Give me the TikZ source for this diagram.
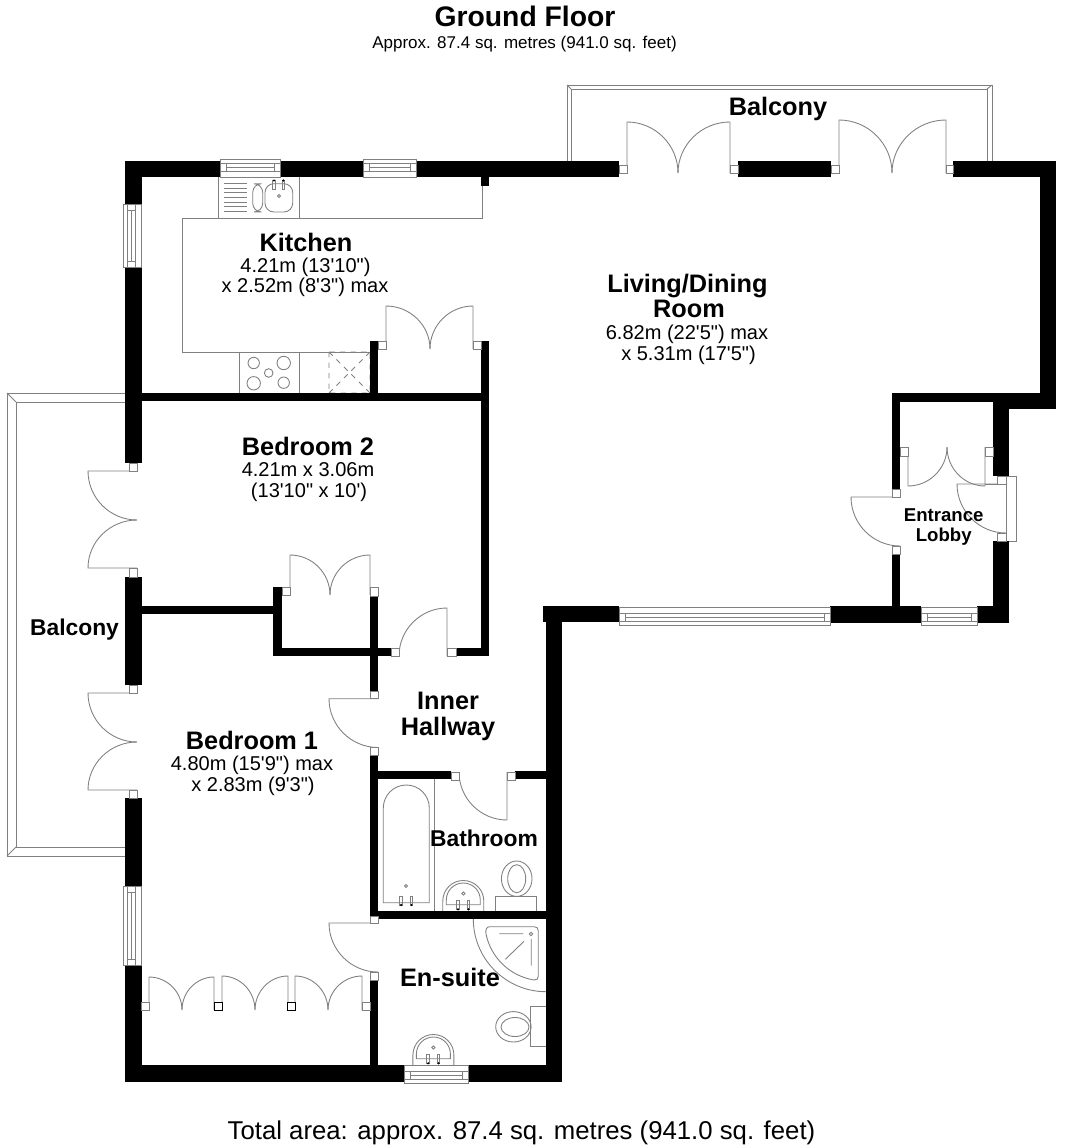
\documentclass[tikz,border=0pt]{standalone}
\usepackage{fontspec}
\newfontfamily\planfont{Liberation Sans}
\usetikzlibrary{positioning}

\tikzset{
    fixture/.style={draw=gray,line width=0.5pt},
    post/.style={draw=gray,fill=white,line width=0.5pt},
    bigroom/.style={font=\planfont\bfseries\fontsize{14.4}{16}\selectfont,anchor=base},
    midroom/.style={font=\planfont\bfseries\fontsize{13}{15}\selectfont,anchor=base},
    smallroom/.style={font=\planfont\bfseries\fontsize{10.6}{12}\selectfont,anchor=base},
    size/.style={font=\planfont\fontsize{11.4}{13}\selectfont,anchor=base},
}

% hinge, leaf tip, arc end
\newcommand{\doorleaf}[6]{
    \draw[fixture] (#1,#2) -- (#3,#4) .. controls ({#3+.55*(#5-#1)},{#4+.55*(#6-#2)}) and ({#5+.55*(#3-#1)},{#6+.55*(#4-#2)}) .. (#5,#6);
}
\newcommand{\glazing}[2]{
    \begin{scope}[#1]
        \draw[post] (0,0) rectangle (#2,18);
        \draw[fixture] (0,4) -- (#2,4) (6,8) -- ({#2-6},8) (6,12) -- ({#2-6},12);
        \draw[fixture] (0,4) rectangle (6,12) ({#2-6},4) rectangle (#2,12);
    \end{scope}
}
\newcommand{\tapset}[3]{
    \foreach \tx in {-5.2,5.2}{
        \draw[fixture] ({#1+\tx-1.3},#2) rectangle ({#1+\tx+1.3},#3);
        \fill ({#1+\tx},#3) circle (1.2);
    }
}
\newcommand{\basin}[2]{
    \draw[fixture] ({#1-20.5},#2) -- ({#1-20.5},{#2-10}) arc[start angle=180,end angle=360,radius=20.5] -- ({#1+20.5},#2);
    \draw[fixture] ({#1-17},{#2-6.3}) -- ({#1-17},{#2-11}) arc[start angle=180,end angle=360,radius=17] -- ({#1+17},{#2-6.3}) -- cycle;
    \draw[fixture] (#1,{#2-17.5}) circle (1.6);
    \tapset{#1}{#2-10.7}{#2-1.7}
}

\begin{document}
\begin{tikzpicture}[x=0.02cm,y=-0.02cm]
    \useasboundingbox (0,0) rectangle (1064,1148);

    % balconies
    \draw[fixture] (567,161) -- (567,85) -- (992,85) -- (992,161);
    \draw[fixture] (571,161) -- (571,89) -- (987,89) -- (987,161);
    \draw[fixture] (567,85) -- (571,89) (992,85) -- (987,89);
    \draw[fixture] (125,393) -- (7,393) -- (7,856) -- (125,856);
    \draw[fixture] (125,402) -- (16,402) -- (16,847) -- (125,847);
    \draw[fixture] (7,393) -- (16,402) (7,856) -- (16,847);

    % kitchen units
    \draw[fixture] (218,177) -- (218,218) (299,177) -- (299,218);
    \draw[fixture] (482,186) -- (482,218) -- (182,218) -- (182,352) -- (370,352);
    \draw[fixture] (239,352) -- (239,393) (299,352) -- (299,393);
    \foreach \y in {0,...,6}{
        \draw[fixture] (224,{183.7+\y*4.6}) -- (247,{183.7+\y*4.6});
    }
    \draw[fixture,rounded corners=5] (252.7,183.7) rectangle (262.7,212);
    \draw[fixture,rounded corners=5] (265,183.7) rectangle (292.7,212);
    \draw[fixture] (279,196) circle (1.6);
    \foreach \x in {274,283.3}{
        \draw[fixture] ({\x-1.3},180) rectangle ({\x+1.3},189);
        \fill (\x,180.5) circle (1.2);
    }
    \foreach \x/\y/\r in {253.7/363/5.7,283.7/363/6.7,268.7/373/4.3,253.7/383.3/6.7,283.7/382.7/5.7}{
        \draw[fixture] (\x,\y) circle (\r);
    }
    \draw[fixture,dashed] (329,352) rectangle (370,393) (329,352) -- (370,393) (329,393) -- (370,352);

    % bathroom
    \draw[fixture] (434.7,779) -- (434.7,911);
    \draw[fixture] (383.3,902.7) -- (383.3,808) arc[start angle=180,end angle=360,radius=23] -- (429.3,902.7) -- cycle;
    \draw[fixture] (406,886) circle (1.6);
    \tapset{406.3}{896}{905}
    \basin{463.3}{911}
    \draw[fixture] (495.7,911) -- (495.7,896) -- (536.7,896) -- (536.7,911);
    \draw[fixture] (516.7,878.7) ellipse (15.3 and 17.7);
    \draw[fixture] (516.7,878.7) ellipse (9 and 14);

    % en-suite
    \draw[fixture] (473.3,919) .. controls (473.3,959) and (506,991.7) .. (546,991.7);
    \draw[fixture] (490,926.7) -- (534,926.7) .. controls (537,926.7) and (538.3,928) .. (538.3,931) -- (538.3,976) .. controls (538.3,979) and (537,980) .. (534,980) .. controls (510,976) and (491,958) .. (486,934) .. controls (485,929) and (487,926.7) .. (490,926.7);
    \draw[fixture] (499.3,933.7) -- (523.3,933.7) (531.3,939) -- (531.3,965.7) (505.3,959.3) -- (524,941.3);
    \draw[fixture] (531,934) circle (1.8);
    \draw[fixture] (530.7,1006.7) rectangle (546,1046.7);
    \draw[fixture] (513.4,1026.8) ellipse (17.7 and 15.2);
    \draw[fixture] (515,1027) ellipse (14 and 9.5);
    \basin{433.4}{1065}

    % doors
    \foreach \xa/\ya/\xb/\yb/\xc/\yc in {
        627/173/627/122/678/173, 730/173/730/122/678/173,
        839/173/839/120/892/173, 946/173/946/120/892/173,
        386/349/386/306/430/349, 473/349/473/306/430/349,
        908/447/908/486/947/447, 985/447/985/486/947/447,
        900/497/851/497/900/546, 1006/484/957/484/1006/533,
        137/471/88/471/137/520, 137/568/88/568/137/520,
        137/693/88/693/137/742, 137/790/88/790/137/742,
        290/595/290/555/330/595, 370/595/370/555/330/595,
        447/656/447/608/399/656,
        378/698.7/329/698.7/378/747.5,
        507/772/507/820/459/772,
        378/923/329/923/378/972,
        149/1010/149/977/182/1010, 214/1010/214/977/182/1010,
        222/1010/222/976/255/1010, 288/1010/288/976/255/1010,
        295/1010/295/976/328/1010, 362/1010/362/976/328/1010}{
        \doorleaf{\xa}{\ya}{\xb}{\yb}{\xc}{\yc}
    }
    \draw[fixture] (985,484) -- (1006,484);
    \draw[post] (1006,476) rectangle (1016,541);

    % walls
    \foreach \xa/\ya/\xb/\yb in {
        125/161/220/177, 280/161/363/177, 416/161/619/177, 738/161/831/177, 953/161/1056/177,
        1040/161/1056/409, 993/393/1056/409, 892/393/1040/402, 993/393/1009/476, 993/541/1009/623,
        892/393/900/489, 892/554/900/606, 977/606/1009/623, 830/606/921/623, 543/606/619/622,
        546/606/562/1082, 125/1065/404/1082, 468/1065/562/1082,
        125/161/142/204, 125/267/142/463, 125/577/142/685, 125/798/142/886, 125/965/142/1082,
        142/393/489/401, 481/341/489/656, 456/648/489/656, 370/341/378/393, 481/177/489/186,
        142/606/273/614, 273/587/282/656, 273/648/391/656, 370/596/378/691, 370/755/378/916,
        370/980/378/1065, 378/771/451/779, 515/771/546/779, 378/911/546/919}{
        \fill (\xa,\ya) rectangle (\xb,\yb);
    }

    % door posts
    \foreach \xa/\ya/\xb/\yb in {
        619/165/627/173, 730/165/738/173, 831/165/839/173, 946/165/953/173,
        378/341.7/386/349, 473/341.7/481/349, 900/447/908/456, 985/447/993/456,
        892/489/900/497, 892/546/900/554, 997/476/1006/484, 997/533/1006/541,
        129/463/137/471, 129/568/137/577, 129/685/137/693, 129/790/137/798,
        282/587/290/595, 370/587/378/596, 391/648/399/656, 447/648/456/656,
        370/691/378/698.7, 370/747/378/755, 451/772/459/780, 507/772/515/780,
        370/916/378/923, 370/972/378/980, 141/1002/149/1010, 362/1002/370/1010}{
        \draw[post] (\xa,\ya) rectangle (\xb,\yb);
    }
    \foreach \xa/\xb in {214/222,287/295}{
        \draw[post,draw=black] (\xa,1002) rectangle (\xb,1010);
    }

    % windows
    \glazing{shift={(220,159)}}{60}
    \glazing{shift={(363,159)}}{53}
    \glazing{shift={(921,625)},yscale=-1}{56}
    \glazing{shift={(619,625)},yscale=-1}{211}
    \glazing{shift={(404,1083)},yscale=-1}{64}
    \glazing{cm={0,-1,-1,0,(123,204)}}{63}
    \glazing{cm={0,-1,-1,0,(123,886)}}{79}

    % labels
    \node[font=\planfont\bfseries\fontsize{16.1}{18}\selectfont,anchor=base] (title) at (525,26.5) {Ground Floor};
    \node[font=\planfont\fontsize{9.68}{11}\selectfont,anchor=base] (subtitle) at (524.5,49) {Approx. 87.4 sq. metres (941.0 sq. feet)};
    \node[font=\planfont\fontsize{14.65}{16}\selectfont,anchor=base] (total) at (521.5,1139) {Total area: approx. 87.4 sq. metres (941.0 sq. feet)};

    \node[bigroom] (balconytop) at (778,115.7) {Balcony};
    \node[midroom] (balconyleft) at (74.5,635) {Balcony};

    \node[bigroom] (kitchen) at (306,251.7) {Kitchen};
    \node[size] (kitchena) at (305.5,272.7) {4.21m (13'10")};
    \node[size] (kitchenb) at (305,292.7) {x 2.52m (8'3") max};

    \node[bigroom] (livinga) at (687.5,293) {Living/Dining};
    \node[bigroom] (livingb) at (689,318) {Room};
    \node[size] (livingc) at (687,339) {6.82m (22'5") max};
    \node[size] (livingd) at (688.5,360) {x 5.31m (17'5")};

    \node[bigroom] (bedtwo) at (308,455) {Bedroom 2};
    \node[size] (bedtwoa) at (308,476) {4.21m x 3.06m};
    \node[size] (bedtwob) at (309,497) {(13'10" x 10')};

    \node[bigroom] (bedone) at (252,749) {Bedroom 1};
    \node[size] (bedonea) at (252,770.7) {4.80m (15'9") max};
    \node[size] (bedoneb) at (253,791.7) {x 2.83m (9'3")};

    \node[bigroom] (innera) at (448,709) {Inner};
    \node[bigroom] (innerb) at (448,735) {Hallway};
    \node[midroom] (bathroom) at (484,846) {Bathroom};
    \node[bigroom] (ensuite) at (450,986.7) {En-suite};
    \node[smallroom] (lobbya) at (943.7,521.7) {Entrance};
    \node[smallroom] (lobbyb) at (943.7,541) {Lobby};
\end{tikzpicture}
\end{document}
